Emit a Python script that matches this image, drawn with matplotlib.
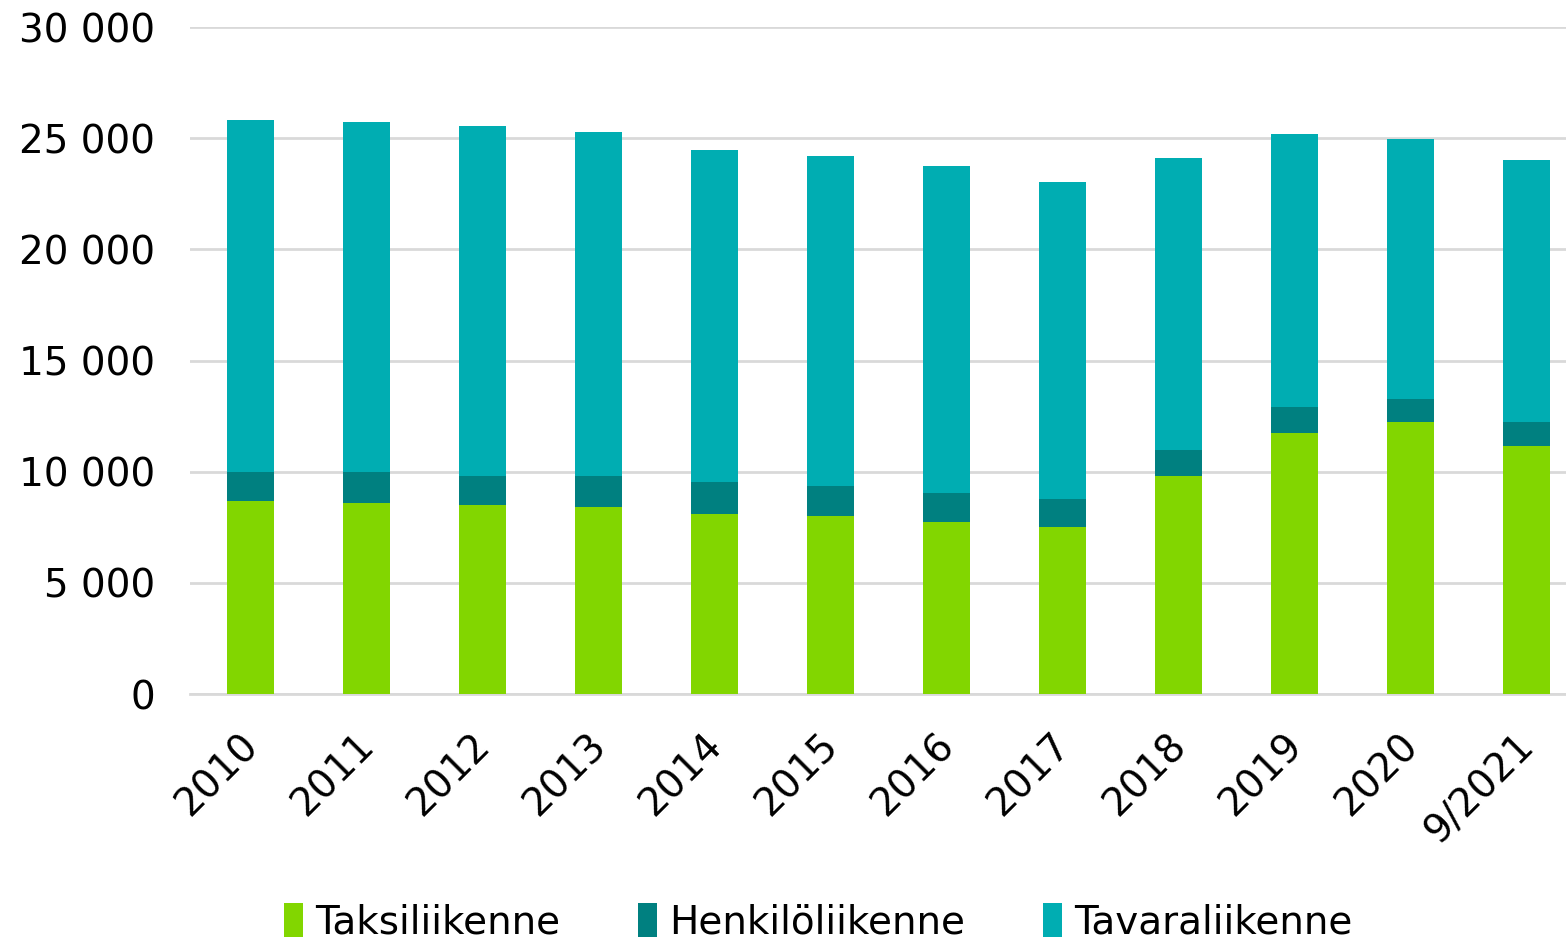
import matplotlib.pyplot as plt
import matplotlib.transforms as mtrans
from matplotlib.ticker import FuncFormatter
import numpy as np

# Vehicle counts per year
years = ['2010', '2011', '2012', '2013', '2014', '2015', '2016', '2017',
         '2018', '2019', '2020', '9/2021']
taksi = [8660, 8570, 8480, 8390, 8100, 8010, 7720, 7520, 9820, 11760, 12220, 11170]
# cumulative tops of each stacked segment
henk_top = [10000, 10000, 9820, 9820, 9540, 9340, 9050, 8770, 10960, 12900, 13280, 12220]
total = [25800, 25730, 25550, 25260, 24490, 24200, 23730, 23050, 24120, 25180, 24970, 24010]

henk = [h - t for h, t in zip(henk_top, taksi)]
tavara = [tot - h for tot, h in zip(total, henk_top)]

labels = ['Taksiliikenne', 'Henkilöliikenne', 'Tavaraliikenne']
colors = ['#82D600', '#008080', '#00ADB2']

fig = plt.figure(figsize=(15.66, 9.44), dpi=100)
ax = fig.add_axes([190 / 1566, 1 - 694 / 944, 1 - 190 / 1566, (694 - 27) / 944])

x = np.arange(len(years))
w = 0.4
ax.bar(x, taksi, w, color=colors[0], label=labels[0], zorder=3)
ax.bar(x, henk, w, bottom=taksi, color=colors[1], label=labels[1], zorder=3)
ax.bar(x, tavara, w, bottom=henk_top, color=colors[2], label=labels[2], zorder=3)

ax.set_xlim(-0.52, 11.34)
ax.set_ylim(0, 30000)
ax.set_yticks(range(0, 30001, 5000))
ax.yaxis.set_major_formatter(FuncFormatter(lambda v, p: f'{int(v):,}'.replace(',', ' ')))
ax.grid(axis='y', color='#d9d9d9', linewidth=2, zorder=0)
ax.set_axisbelow(True)

for s in ['top', 'right', 'left']:
    ax.spines[s].set_visible(False)
ax.spines['bottom'].set_color('#d9d9d9')
ax.spines['bottom'].set_linewidth(2)

ax.tick_params(axis='y', length=0, pad=25, labelsize=28)
ax.tick_params(axis='x', length=0, pad=23, labelsize=28)
ax.set_xticks(x)
ax.set_xticklabels(years, rotation=45, ha='right', va='top', rotation_mode='anchor')
# nudge the rotated year labels a bit to the left
shift = mtrans.ScaledTranslation(-12 / 100, 0, fig.dpi_scale_trans)
for lbl in ax.get_xticklabels():
    lbl.set_transform(lbl.get_transform() + shift)

fig.legend(loc='center', bbox_to_anchor=(818 / 1566, 1 - 922 / 944), ncol=3,
           frameon=False, fontsize=28, handlelength=0.5, handleheight=1.0,
           handletextpad=0.3, columnspacing=2.0)

fig.savefig('out.png', dpi=100)
